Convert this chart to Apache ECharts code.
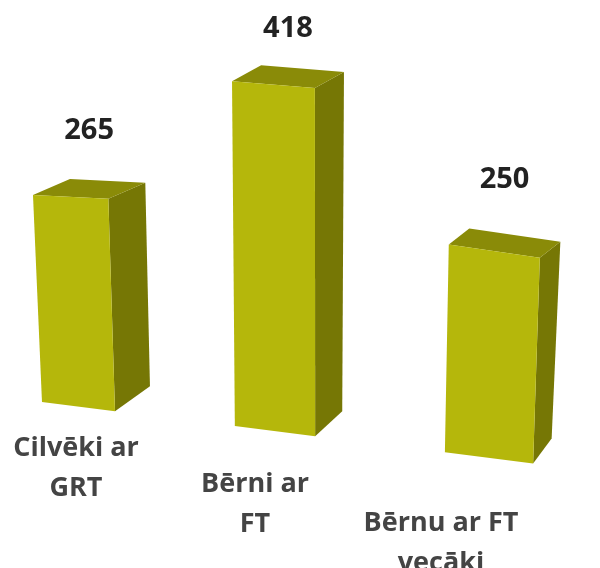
<!DOCTYPE html>
<html>
<head>
<meta charset="utf-8">
<script src="https://cdn.jsdelivr.net/npm/echarts@6/dist/echarts.min.js"></script>
<style>
html,body{margin:0;padding:0;background:#fff;}
#chart{width:600px;height:568px;}
</style>
</head>
<body>
<div id="chart"></div>
<script>
const categories = ['Cilvēki ar\nGRT', 'Bērni ar\nFT', 'Bērnu ar FT\nvecāki'];
const values = [265, 418, 250];

const FRONT = '#b5b70b';
const SIDE = '#767705';
const TOP = '#8a8b08';

const chart = echarts.init(document.getElementById('chart'), null, {renderer: 'canvas'});

function renderItem(params, api) {
  const idx = api.value(0);
  const val = api.value(1);
  const base = api.coord([idx, 0]);
  const topPt = api.coord([idx, val]);
  // horizontal perspective stretch of the tilted 3D look
  const x0 = base[0];
  const c = -34.875 + 1.02625 * x0 + 0.00021875 * (x0 - 300) * (x0 - 300);
  const yb = base[1];
  const hpx = (yb - topPt[1]) / 0.83;
  const baseY = x => yb + 0.125 * (x - 306);
  const k = x => { const u = x - 42; return 0.781 + 0.000321 * u - 4.83e-7 * u * u; };
  const lean = x => -9 + 0.032 * (x - 42);
  const w = 73 + (c - 75.5) * 0.037;
  const BLx = c - w / 2 + 2;
  const BRx = BLx + w;
  const BL = [BLx, baseY(BLx)];
  const BR = [BRx, baseY(BRx)];
  const TL = [BLx + lean(BLx), baseY(BLx) - hpx * k(BLx)];
  const TR = [BRx + lean(BRx), baseY(BRx) - hpx * k(BRx)];
  const dx = 37 - 0.04 * (c - 75);
  const dTop = [dx, -16];
  const dBot = [dx - 2, -25];
  const add = (p, d) => [p[0] + d[0], p[1] + d[1]];
  const topCenter = [(TL[0] + TR[0]) / 2 + dTop[0] / 2, (TL[1] + TR[1]) / 2 + dTop[1] / 2];
  const u = c - 76.5;
  const labX = 76 + 0.931 * u - 1.019e-4 * u * u;
  const labY = 448 + u * 0.1827;
  const valOffset = 57.6 - 0.1089 * u + 3.002e-4 * u * u;
  return {
    type: 'group',
    children: [
      {type: 'polygon', shape: {points: [BR, add(BR, dBot), add(TR, dTop), TR]}, style: {fill: SIDE}},
      {type: 'polygon', shape: {points: [TL, TR, add(TR, dTop), add(TL, dTop)]}, style: {fill: TOP}},
      {type: 'polygon', shape: {points: [BL, BR, TR, TL]}, style: {fill: FRONT}},
      {type: 'text', style: {text: String(val), x: topCenter[0], y: topCenter[1] - valOffset,
        align: 'center', verticalAlign: 'middle', fill: '#222',
        fontFamily: 'Open Sans', fontWeight: 'bold', fontSize: 29}},
      {type: 'text', style: {text: categories[idx], x: labX, y: labY - 20,
        align: 'center', verticalAlign: 'top', fill: '#444', lineHeight: 40,
        fontFamily: 'Open Sans', fontWeight: 'bold', fontSize: 27}}
    ]
  };
}

chart.setOption({
  animation: false,
  backgroundColor: '#fff',
  grid: {left: 0, right: 0, top: 20, height: 415},
  xAxis: {type: 'category', data: categories, show: false},
  yAxis: {type: 'value', min: 0, max: 500, show: false},
  series: [{
    type: 'custom',
    clip: false,
    renderItem: renderItem,
    data: values.map((v, i) => [i, v])
  }]
});
</script>
</body>
</html>
